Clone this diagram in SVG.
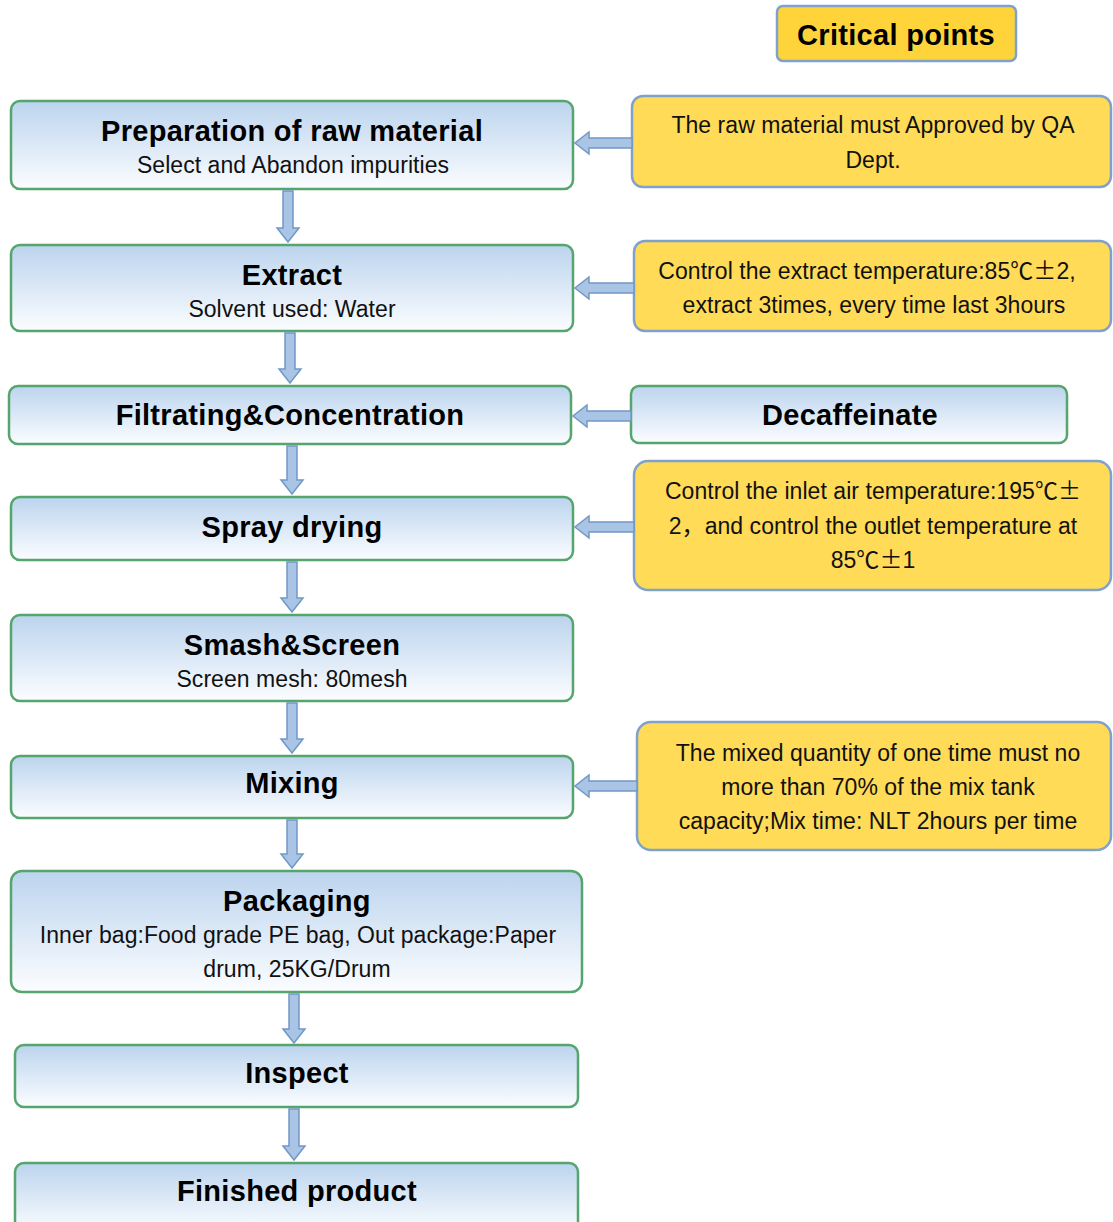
<svg xmlns="http://www.w3.org/2000/svg" width="1113" height="1222" viewBox="0 0 1113 1222">
<defs>
<linearGradient id="blue" x1="0" y1="0" x2="0" y2="1">
<stop offset="0" stop-color="#BCD4EE"/>
<stop offset="1" stop-color="#FBFDFF"/>
</linearGradient>
<style>
.step{fill:url(#blue);stroke:#55A56E;stroke-width:2.5}
.note{fill:#FFDB58;stroke:#7FA2CC;stroke-width:2.5}
.crit{fill:#FFD43A;stroke:#7FA2CC;stroke-width:2.5}
.t{font-family:"Liberation Sans",Arial,sans-serif;font-weight:bold;font-size:29px;fill:#000;text-anchor:middle;letter-spacing:0.3px}
.s{font-family:"Liberation Sans",Arial,sans-serif;font-size:23px;fill:#111;text-anchor:middle;letter-spacing:0.05px}
.cjk{font-family:"Noto Sans CJK SC",sans-serif}
.arr{fill:#A9C4E5;stroke:#7198C6;stroke-width:1.5}
</style>
</defs>
<rect width="1113" height="1222" fill="#fff"/>

<g id="critical-points">
<rect class="crit" x="777" y="6" width="239" height="55" rx="6"/>
<text class="t" x="896" y="45">Critical points</text>
</g>

<g id="n1">
<rect class="step" x="11" y="101" width="562" height="88" rx="9"/>
<text class="t" x="292" y="141">Preparation of raw material</text>
<text class="s" x="293" y="173">Select and Abandon impurities</text>
</g>
<g id="n2">
<rect class="step" x="11" y="245" width="562" height="86" rx="9"/>
<text class="t" x="292" y="285">Extract</text>
<text class="s" x="292" y="317">Solvent used: Water</text>
</g>
<g id="n3">
<rect class="step" x="9" y="386" width="562" height="58" rx="9"/>
<text class="t" x="290" y="425">Filtrating&amp;Concentration</text>
</g>
<g id="n4">
<rect class="step" x="11" y="497" width="562" height="63" rx="9"/>
<text class="t" x="292" y="537">Spray drying</text>
</g>
<g id="n5">
<rect class="step" x="11" y="615" width="562" height="86" rx="9"/>
<text class="t" x="292" y="655">Smash&amp;Screen</text>
<text class="s" x="292" y="687">Screen mesh: 80mesh</text>
</g>
<g id="n6">
<rect class="step" x="11" y="756" width="562" height="62" rx="9"/>
<text class="t" x="292" y="793">Mixing</text>
</g>
<g id="n7">
<rect class="step" x="11" y="871" width="571" height="121" rx="11"/>
<text class="t" x="297" y="911">Packaging</text>
<text class="s" x="298" y="943">Inner bag:Food grade PE bag, Out package:Paper</text>
<text class="s" x="297" y="977">drum, 25KG/Drum</text>
</g>
<g id="n8">
<rect class="step" x="15" y="1045" width="563" height="62" rx="9"/>
<text class="t" x="297" y="1083">Inspect</text>
</g>
<g id="n9">
<rect class="step" x="15" y="1163" width="563" height="70" rx="9"/>
<text class="t" x="297" y="1201">Finished product</text>
</g>

<g id="c1">
<rect class="note" x="632" y="96" width="479" height="91" rx="11"/>
<text class="s" x="873" y="133">The raw material must Approved by QA</text>
<text class="s" x="873" y="168">Dept.</text>
</g>
<g id="c2">
<rect class="note" x="634" y="241" width="477" height="90" rx="11"/>
<text class="s" x="867" y="279">Control the extract temperature:85<tspan class="cjk">℃±</tspan>2,</text>
<text class="s" x="874" y="313">extract 3times, every time last 3hours</text>
</g>
<g id="c3">
<rect class="step" x="631" y="386" width="436" height="57" rx="8"/>
<text class="t" x="850" y="425">Decaffeinate</text>
</g>
<g id="c4">
<rect class="note" x="634" y="461" width="477" height="129" rx="14"/>
<text class="s" x="873" y="499">Control the inlet air temperature:195<tspan class="cjk">℃±</tspan></text>
<text class="s" x="873" y="534">2<tspan class="cjk">，</tspan>and control the outlet temperature at</text>
<text class="s" x="873" y="568">85<tspan class="cjk">℃±</tspan>1</text>
</g>
<g id="c5">
<rect class="note" x="637" y="722" width="474" height="128" rx="14"/>
<text class="s" x="878" y="761">The mixed quantity of one time must no</text>
<text class="s" x="878" y="795">more than 70% of the mix tank</text>
<text class="s" x="878" y="829">capacity;Mix time: NLT 2hours per time</text>
</g>

<g id="connectors">
<path class="arr" d="M283,191 L293,191 L293,228 L299,228 L288,242 L277,228 L283,228 Z"/>
<path class="arr" d="M285,333 L295,333 L295,369 L301,369 L290,383 L279,369 L285,369 Z"/>
<path class="arr" d="M287,446 L297,446 L297,480 L303,480 L292,494 L281,480 L287,480 Z"/>
<path class="arr" d="M287,562 L297,562 L297,598 L303,598 L292,612 L281,598 L287,598 Z"/>
<path class="arr" d="M287,703 L297,703 L297,739 L303,739 L292,753 L281,739 L287,739 Z"/>
<path class="arr" d="M287,820 L297,820 L297,854 L303,854 L292,868 L281,854 L287,854 Z"/>
<path class="arr" d="M289,994 L299,994 L299,1029 L305,1029 L294,1043 L283,1029 L289,1029 Z"/>
<path class="arr" d="M289,1109 L299,1109 L299,1146 L305,1146 L294,1160 L283,1146 L289,1146 Z"/>
<path class="arr" d="M632,138 L589,138 L589,132 L575,143 L589,154 L589,148 L632,148 Z"/>
<path class="arr" d="M634,283 L589,283 L589,277 L575,288 L589,299 L589,293 L634,293 Z"/>
<path class="arr" d="M631,411 L587,411 L587,405 L573,416 L587,427 L587,421 L631,421 Z"/>
<path class="arr" d="M634,522 L589,522 L589,516 L575,527 L589,538 L589,532 L634,532 Z"/>
<path class="arr" d="M637,781 L589,781 L589,775 L575,786 L589,797 L589,791 L637,791 Z"/>
</g>
</svg>
